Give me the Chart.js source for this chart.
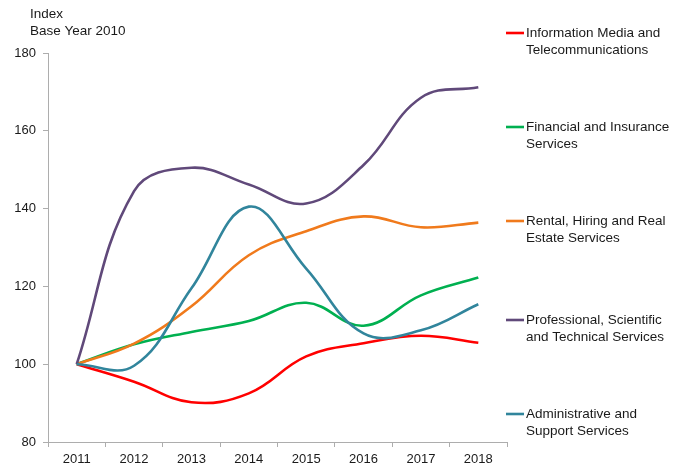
<!DOCTYPE html>
<html>
<head>
<meta charset="utf-8">
<script src="https://cdn.jsdelivr.net/npm/chart.js@4"></script>
<style>
  html, body { margin: 0; padding: 0; background: #fff; }
  #wrap { width: 686px; height: 468px; position: relative; }
</style>
</head>
<body>
<div id="wrap"><canvas id="chart" width="686" height="468"></canvas></div>
<script>
const years = ['2011', '2012', '2013', '2014', '2015', '2016', '2017', '2018'];

const infoMedia = [100, 95.5, 90.2, 92.5, 102, 105.4, 107.3, 105.5];
const financial = [100, 105.1, 108.3, 111.1, 115.8, 109.9, 117.7, 122.3];
const rental = [100, 105.3, 114.9, 128, 134.2, 138, 135.2, 136.4];
const professional = [100, 144.5, 150.5, 146.2, 141.3, 151.2, 168.5, 171.2];
const admin = [100, 99.6, 119.5, 140.5, 124.6, 107.9, 108.7, 115.4];

const seriesNames = [
  ['Information Media and', 'Telecommunications'],
  ['Financial and Insurance', 'Services'],
  ['Rental, Hiring and Real', 'Estate Services'],
  ['Professional, Scientific', 'and Technical Services'],
  ['Administrative and', 'Support Services']
];
const colors = ['#ff0000', '#00b050', '#f07a1c', '#60497a', '#31859c'];
const axisTitle = ['Index', 'Base Year 2010'];

const FONT = '"Liberation Sans", Arial, sans-serif';
const TEXT = '#1a1a1a';
const AXIS = '#adadad';

function series(i, data) {
  return {
    label: seriesNames[i].join(' '),
    data: data,
    borderColor: colors[i],
    backgroundColor: colors[i],
    borderWidth: 2.6,
    pointRadius: 0,
    tension: 0.4,
    fill: false,
    order: 4 - i
  };
}

// title in the corner and the legend down the right side
const decorations = {
  id: 'decorations',
  afterDraw(chart) {
    const ctx = chart.ctx;
    ctx.save();
    ctx.font = '13.5px ' + FONT;
    ctx.fillStyle = TEXT;
    ctx.textBaseline = 'middle';
    ctx.textAlign = 'left';
    ctx.fillText(axisTitle[0], 30, 14.5);
    ctx.fillText(axisTitle[1], 30, 31.5);

    const legendY = [33, 127, 221, 320, 414];
    seriesNames.forEach((lines, i) => {
      const y = legendY[i];
      ctx.strokeStyle = colors[i];
      ctx.lineWidth = 2.6;
      ctx.beginPath();
      ctx.moveTo(506, y);
      ctx.lineTo(524, y);
      ctx.stroke();
      ctx.fillStyle = TEXT;
      ctx.fillText(lines[0], 526, y);
      ctx.fillText(lines[1], 526, y + 17);
    });
    ctx.restore();
  }
};

new Chart(document.getElementById('chart'), {
  type: 'line',
  data: {
    labels: years,
    datasets: [
      series(0, infoMedia),
      series(1, financial),
      series(2, rental),
      series(3, professional),
      series(4, admin)
    ]
  },
  options: {
    responsive: false,
    animation: false,
    events: [],
    layout: { padding: { top: 53, right: 179, bottom: 0, left: 0 } },
    plugins: {
      legend: { display: false },
      tooltip: { enabled: false }
    },
    scales: {
      x: {
        offset: true,
        grid: {
          offset: true,
          drawOnChartArea: false,
          tickLength: 5,
          color: AXIS
        },
        border: { color: AXIS, width: 1 },
        ticks: {
          color: TEXT,
          font: { family: FONT, size: 13 },
          padding: 5,
          maxRotation: 0
        },
        afterFit: s => { s.height = 26; }
      },
      y: {
        min: 80,
        max: 180,
        grid: {
          drawOnChartArea: false,
          tickLength: 5,
          color: AXIS
        },
        border: { color: AXIS, width: 1 },
        ticks: {
          stepSize: 20,
          color: TEXT,
          font: { family: FONT, size: 13 },
          padding: 7
        },
        afterFit: s => { s.width = 48; }
      }
    }
  },
  plugins: [decorations]
});
</script>
</body>
</html>
